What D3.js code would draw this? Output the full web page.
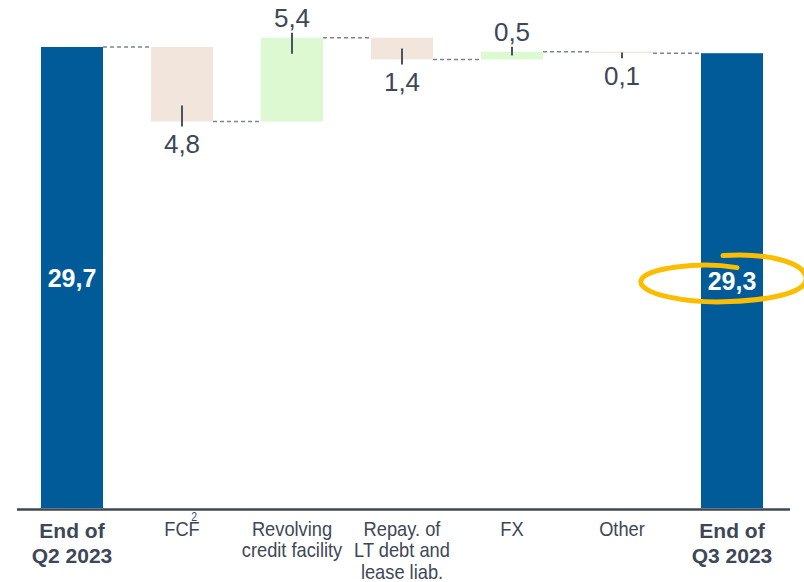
<!DOCTYPE html>
<html><head><meta charset="utf-8">
<script src="https://cdn.jsdelivr.net/npm/d3@7"></script>
<style>
html,body{margin:0;padding:0;background:#fff;}
svg{display:block;font-family:"Liberation Sans",Arial,sans-serif;}
</style></head>
<body>
<svg id="chart" width="804" height="582"></svg>
<script>
const categories = ["End of Q2 2023","FCF","Revolving credit facility","Repay. of LT debt and lease liab.","FX","Other","End of Q3 2023"];
const categoryLines = [["End of","Q2 2023"],["FCF"],["Revolving","credit facility"],["Repay. of","LT debt and","lease liab."],["FX"],["Other"],["End of","Q3 2023"]];
const values = [29.7, -4.8, 5.4, -1.4, 0.5, -0.1, 29.3];
const kinds = ["total","delta","delta","delta","delta","delta","total"];

const svg = d3.select("#chart");
const x = d3.scaleBand().domain(categories).range([17, 787]).paddingInner(0.436).paddingOuter(0.218);
const y = d3.scaleLinear().domain([0, 29.7]).range([508, 47]);
const bw = x.bandwidth();
const fmt = v => Math.abs(v).toFixed(1).replace(".", ",");

// compute waterfall
let running = 0;
const bars = categories.map((c, i) => {
  const v = values[i];
  let lo, hi, start, end;
  if (kinds[i] === "total") { start = 0; end = v; running = v; }
  else { start = running; end = running + v; running = end; }
  lo = Math.min(start, end); hi = Math.max(start, end);
  return {c, v, kind: kinds[i], lo, hi, level: running};
});

const colorOf = d => d.kind === "total" ? "#005b98" : (d.v >= 0 ? "#dcf9d2" : "#f2e6dc");

// connectors
for (let i = 0; i < bars.length - 1; i++) {
  const lvl = bars[i].level;
  svg.append("line")
    .attr("x1", x(bars[i].c) + bw).attr("x2", x(bars[i+1].c))
    .attr("y1", y(lvl)).attr("y2", y(lvl))
    .attr("stroke", "#7d858f").attr("stroke-width", 1.5).attr("stroke-dasharray", "4,3");
}

// bars
svg.selectAll("rect.bar").data(bars).join("rect")
  .attr("class", "bar")
  .attr("x", d => x(d.c)).attr("width", bw)
  .attr("y", d => y(d.hi)).attr("height", d => Math.max(1.5, y(d.lo) - y(d.hi)))
  .attr("fill", colorOf);

// delta labels and ticks
bars.filter(d => d.kind === "delta").forEach(d => {
  const cx = x(d.c) + bw / 2;
  const top = y(d.hi), bot = Math.max(y(d.lo), top + 1.5);
  const inner = Math.min(16, (bot - top) / 2);
  let y1, y2, ty;
  if (d.v >= 0) { y1 = top - 5; y2 = top + inner; ty = top - 11; }
  else { y1 = bot + 5; y2 = bot - inner; ty = bot + 31.5; }
  svg.append("line").attr("x1", cx).attr("x2", cx).attr("y1", y1).attr("y2", y2)
    .attr("stroke", "#4a5461").attr("stroke-width", 2);
  svg.append("text").attr("x", cx).attr("y", ty).attr("text-anchor", "middle")
    .attr("font-size", 26).attr("fill", "#3d4757").text(fmt(d.v));
});

// total labels
bars.filter(d => d.kind === "total").forEach(d => {
  const cx = x(d.c) + bw / 2;
  const cy = y(d.hi / 2);
  svg.append("text").attr("x", cx).attr("y", cy + 9).attr("text-anchor", "middle")
    .attr("font-size", 25).attr("font-weight", "bold").attr("fill", "#ffffff").text(fmt(d.v));
});

// axis line
svg.append("line").attr("x1", 17).attr("x2", 790).attr("y1", 509.5).attr("y2", 509.5)
  .attr("stroke", "#3e4855").attr("stroke-width", 2.5);

// category labels
bars.forEach((d, i) => {
  const cx = x(d.c) + bw / 2;
  const lines = categoryLines[i];
  if (d.kind === "total") {
    lines.forEach((t, k) => {
      svg.append("text").attr("x", cx).attr("y", 538 + k * 25).attr("text-anchor", "middle")
        .attr("font-size", 21).attr("font-weight", "bold").attr("fill", "#3d4757").text(t);
    });
  } else {
    const g = svg.append("g").attr("transform", `translate(${cx},0) scale(0.87,1)`);
    lines.forEach((t, k) => {
      const tx = g.append("text").attr("x", 0).attr("y", 536 + k * 21.5).attr("text-anchor", "middle")
        .attr("font-size", 21).attr("fill", "#3d4757").text(t);
    });
    if (d.c === "FCF") {
      g.append("text").attr("x", 14).attr("y", 521).attr("text-anchor", "middle")
        .attr("font-size", 12).attr("fill", "#3d4757").text("2");
    }
  }
});

// highlight ellipse around final value
const last = bars[bars.length - 1];
const ex = x(last.c) + bw / 2, ey = y(last.hi / 2);
const p = (dx, dy) => `${ex + dx},${ey + dy}`;
svg.append("path")
  .attr("d", `M ${p(5,-13)} C ${p(-32,-19)} ${p(-87,-13)} ${p(-91,0)} C ${p(-94,14)} ${p(-42,23)} ${p(-2,21)} C ${p(43,19)} ${p(76,11)} ${p(74,-3)} C ${p(72,-19)} ${p(33,-28)} ${p(-9,-25)}`)
  .attr("fill", "none").attr("stroke", "#fbbd00").attr("stroke-width", 5).attr("stroke-linecap", "round");
</script>
</body></html>
